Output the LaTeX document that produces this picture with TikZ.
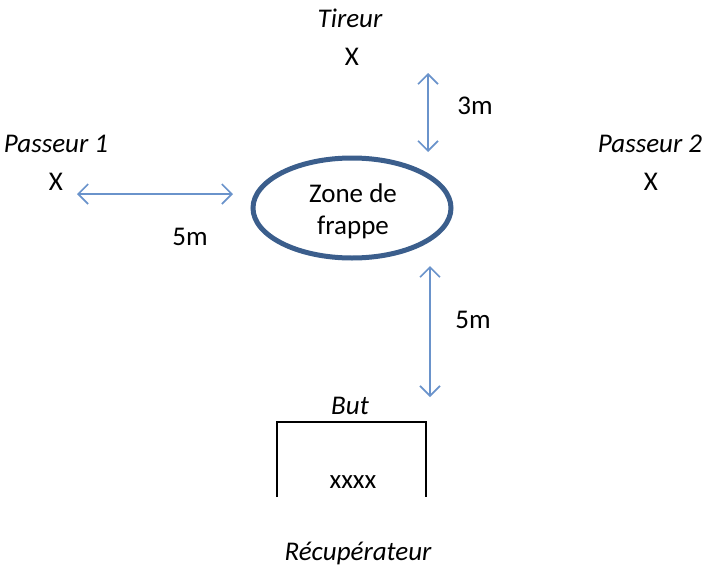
\documentclass[tikz,border=0pt]{standalone}
\usepackage{fontspec}
\setmainfont{Carlito}
\usetikzlibrary{arrows.meta}
\definecolor{ellblue}{HTML}{3B5E8C}
\definecolor{arrblue}{HTML}{6A93CB}
\tikzset{
  lbl/.style={inner sep=0pt, font=\fontsize{27}{32}\selectfont},
  ilbl/.style={inner sep=0pt, font=\fontsize{27}{32}\selectfont\itshape},
  darrow/.style={draw=arrblue, line width=1.6pt, {Straight Barb[length=10pt,width=20pt]}-{Straight Barb[length=10pt,width=20pt]}},
}
\begin{document}
\begin{tikzpicture}[x=1pt,y=-1pt]
\useasboundingbox (0,0) rectangle (707,568);
\node[ilbl] (tireurlbl) at (350,18) {Tireur};
\node[lbl] (tireur) at (352,57) {X};
\node[ilbl] (p1lbl) at (56,144) {Passeur 1};
\node[lbl] (p1) at (56,182) {X};
\node[ilbl] (p2lbl) at (650,144) {Passeur 2};
\node[lbl] (p2) at (651,182) {X};
\draw[ellblue, line width=5pt] (352,208) ellipse [x radius=99, y radius=50];
\node[lbl] (zone1) at (353,193) {Zone de};
\node[lbl] (zone2) at (353,227) {frappe};
\coordinate (h1) at (77,194);
\coordinate (h2) at (233,194);
\draw[darrow] (h1) -- (h2);
\node[lbl] (d1) at (190,237) {5m};
\coordinate (v1) at (428,73);
\coordinate (v2) at (428,152);
\draw[darrow] (v1) -- (v2);
\node[lbl] (d2) at (475,106) {3m};
\coordinate (w1) at (430,266);
\coordinate (w2) at (430,397);
\draw[darrow] (w1) -- (w2);
\node[lbl] (d3) at (473,320) {5m};
\node[ilbl] (but) at (350,406) {But};
\coordinate (g1) at (277,497);
\coordinate (g2) at (277,422);
\coordinate (g3) at (426,422);
\coordinate (g4) at (426,497);
\draw[black, line width=1.8pt] (g1) -- (g2) -- (g3) -- (g4);
\node[lbl] (xxxx) at (353,482) {xxxx};
\node[ilbl] (recup) at (358,553) {Récupérateur};
\end{tikzpicture}
\end{document}
